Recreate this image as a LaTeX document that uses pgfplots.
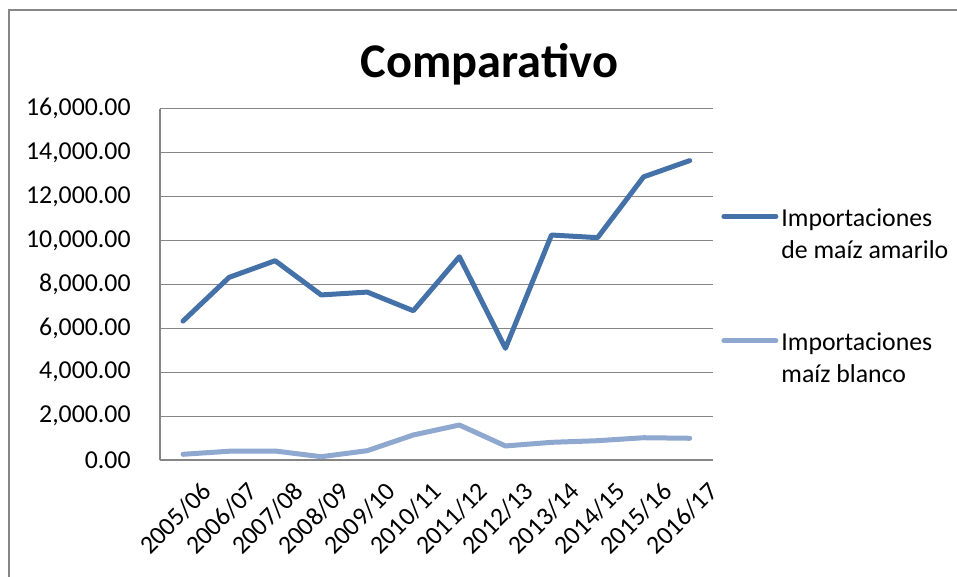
\documentclass[border=0pt]{standalone}
\usepackage{pgfplots}
\pgfplotsset{compat=1.18}
\usepackage{fontspec}
\setmainfont{Carlito}
\definecolor{dark}{RGB}{68,114,168}
\definecolor{light}{RGB}{142,168,207}
\definecolor{gridc}{RGB}{134,134,134}
\begin{document}
\begin{tikzpicture}
\useasboundingbox (0,0) rectangle (478.5pt,-288.5pt);
\draw[gridc, line width=1pt] (4.35pt,-288.5pt) -- (4.35pt,-5pt) -- (478.5pt,-5pt);
\node[font=\fontsize{24.2}{28}\selectfont\bfseries, anchor=base, inner sep=0pt] at (244.75pt,-39pt) {Comparativo};
\begin{axis}[
  at={(80pt,-230pt)}, anchor=south west, scale only axis,
  width=276.35pt, height=175.6pt,
  xmin=-0.5, xmax=11.5, ymin=0, ymax=16000,
  ytick={0,2000,...,16000},
  xtick={0,...,11},
  xticklabels={2005/06,2006/07,2007/08,2008/09,2009/10,2010/11,2011/12,2012/13,2013/14,2014/15,2015/16,2016/17},
  axis lines*=left,
  major tick length=0pt,
  ymajorgrids,
  grid style={gridc, line width=0.6pt},
  axis line style={gridc, line width=0.6pt},
  tick label style={font=\fontsize{12.9}{15}\selectfont, text=black},
  yticklabel style={anchor=east, inner sep=0pt, xshift=-14.5pt},
  xticklabel style={rotate=45, anchor=north east, inner sep=0pt, xshift=-1pt, yshift=-13pt},
  scaled y ticks=false,
  yticklabel={\pgfmathprintnumber[fixed,fixed zerofill,precision=2,1000 sep={,}]{\tick}},
  /pgf/number format/assume math mode=true,
  legend style={at={(1.015,0.730)}, anchor=north west, draw=none, fill=none,
    inner sep=0pt, row sep=49.5pt, column sep=1.5pt,
    font=\fontsize{12.9}{16}\selectfont, cells={anchor=base west}, nodes={inner sep=0pt}},
  legend image code/.code={\draw[#1] (1pt,5pt) -- (27pt,5pt);},
  every axis plot/.append style={line width=2.5pt, line cap=round, line join=round},
]
\addplot[dark, mark=none] coordinates {
(0,6330) (1,8320) (2,9080) (3,7520) (4,7650) (5,6800)
(6,9260) (7,5090) (8,10250) (9,10130) (10,12900) (11,13640)};
\addlegendentry{\begin{tabular}[t]{@{}l@{}}Importaciones\\de maíz amarilo\end{tabular}}
\addplot[light, mark=none] coordinates {
(0,260) (1,400) (2,410) (3,150) (4,425) (5,1140)
(6,1595) (7,640) (8,805) (9,880) (10,1015) (11,990)};
\addlegendentry{\begin{tabular}[t]{@{}l@{}}Importaciones\\maíz blanco\end{tabular}}
\end{axis}
\end{tikzpicture}
\end{document}
